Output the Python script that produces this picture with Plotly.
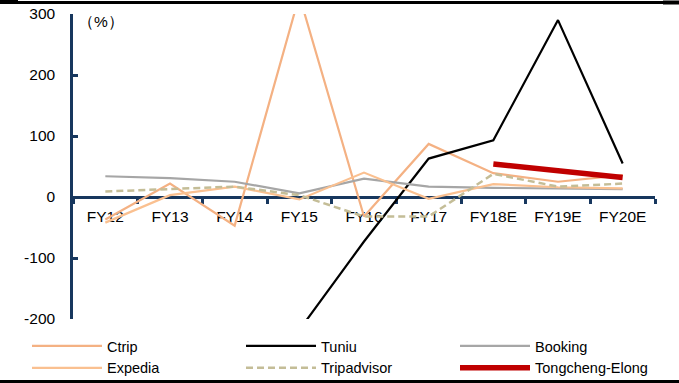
import plotly.graph_objects as go

categories = ["FY12", "FY13", "FY14", "FY15", "FY16", "FY17", "FY18E", "FY19E", "FY20E"]
ctrip = [-37, 22, -47, 330, -32, 87, 39, 25, 36]
tuniu = [None, None, None, -218, -73, 63, 93, 290, 55]
booking = [34, 31, 25, 6, 30, 17, 15, 14, 13]
expedia = [-42, 3, 17, -4, 40, -3, 21, 16, 14]
tripadvisor = [9, 13, 17, 3, -32, -32, 38, 17, 22]
tongcheng = [None, None, None, None, None, None, 54, 43, 32]
ytick_vals = [-200, -100, 0, 100, 200, 300]
ytick_text = ["-200", "-100", "0", "100", "200", "300"]

FONT = "Liberation Sans, Arial, sans-serif"
AXIS_COLOR = "#17375E"

fig = go.Figure()
fig.add_trace(go.Scatter(x=categories, y=ctrip, name="Ctrip", mode="lines",
                         line=dict(color="#F4B183", width=2.2)))
fig.add_trace(go.Scatter(x=categories, y=tuniu, name="Tuniu", mode="lines",
                         line=dict(color="#000000", width=2.2)))
fig.add_trace(go.Scatter(x=categories, y=booking, name="Booking", mode="lines",
                         line=dict(color="#A6A6A6", width=2.2)))
fig.add_trace(go.Scatter(x=categories, y=expedia, name="Expedia", mode="lines",
                         line=dict(color="#FAC090", width=2.2)))
fig.add_trace(go.Scatter(x=categories, y=tripadvisor, name="Tripadvisor", mode="lines",
                         line=dict(color="#C4BD97", width=2.5, dash="7px,4px")))
fig.add_trace(go.Scatter(x=categories, y=tongcheng, name="Tongcheng-Elong", mode="lines",
                         line=dict(color="#C00000", width=5.5)))

L, R, T, B = 73, 24, 14, 64
W, H = 679, 383
pw, ph = W - L - R, H - T - B

def px_x(p):
    return (p - L) / pw

def px_y(p):
    return (H - B - p) / ph

fig.update_layout(
    width=W, height=H,
    margin=dict(l=L, r=R, t=T, b=B, pad=0, autoexpand=False),
    paper_bgcolor="white", plot_bgcolor="white",
    font=dict(family=FONT, color="#000000", size=15.5),
    showlegend=True,
    legend=dict(orientation="h", x=px_x(27), y=px_y(330), xanchor="left", yanchor="top",
                entrywidth=129, entrywidthmode="pixels", itemwidth=70,
                font=dict(family=FONT, size=14.5, color="#000000"),
                bgcolor="rgba(0,0,0,0)", traceorder="normal", tracegroupgap=0),
    xaxis=dict(type="category", categoryorder="array", categoryarray=categories,
               range=[-0.5, len(categories) - 0.5],
               anchor="free", position=0.4,
               showline=True, linecolor=AXIS_COLOR, linewidth=2.5,
               ticks="outside", tickson="boundaries", ticklen=5, tickwidth=2.5, tickcolor=AXIS_COLOR,
               ticklabelstandoff=5,
               showgrid=False, zeroline=False, layer="below traces",
               tickfont=dict(family=FONT, size=15.5, color="#000000")),
    yaxis=dict(range=[-200, 300], tickvals=ytick_vals, ticktext=ytick_text, domain=[0, 1],
               showline=True, linecolor=AXIS_COLOR, linewidth=2.5,
               ticks="inside", ticklen=5, tickwidth=2.5, tickcolor=AXIS_COLOR,
               ticklabelstandoff=12,
               showgrid=False, zeroline=False, layer="below traces",
               tickfont=dict(family=FONT, size=15.5, color="#000000")),
    annotations=[dict(text="（%）", x=px_x(101), y=px_y(21), xref="paper", yref="paper",
                      showarrow=False, font=dict(family=FONT, size=15.5, color="#000000"),
                      xanchor="center", yanchor="middle")],
    shapes=[
        dict(type="line", xref="paper", yref="paper", x0=px_x(0), x1=px_x(W), y0=px_y(2.5), y1=px_y(2.5),
             line=dict(color="#000000", width=3)),
        dict(type="line", xref="paper", yref="paper", x0=px_x(0), x1=px_x(18), y0=px_y(2), y1=px_y(2),
             line=dict(color="#000000", width=4)),
        dict(type="line", xref="paper", yref="paper", x0=px_x(663), x1=px_x(W), y0=px_y(2.5), y1=px_y(2.5),
             line=dict(color="#000000", width=4)),
        dict(type="line", xref="paper", yref="paper", x0=px_x(0), x1=px_x(W), y0=px_y(381.5), y1=px_y(381.5),
             line=dict(color="#000000", width=3)),
    ],
)

fig.write_html("out.html")
